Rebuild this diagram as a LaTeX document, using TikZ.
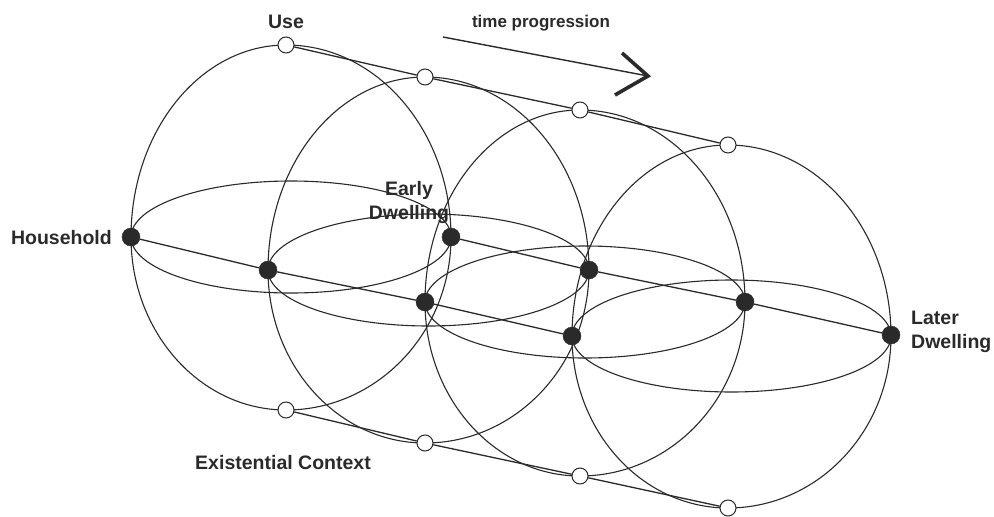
\documentclass[tikz,border=0pt]{standalone}
\usepackage{fontspec}
\setmainfont{Liberation Sans}
\definecolor{ink}{HTML}{2A2A2A}
\newcommand\drawsphere[6]{% #1 Lx, #2 Ly, #3 Tx, #4 Ty, #5 Rx, #6 By
  \pgfmathsetmacro\rl{#3-#1}%
  \pgfmathsetmacro\rr{#5-#3}%
  \pgfmathsetmacro\ru{#2-#4}%
  \pgfmathsetmacro\rd{#6-#2}%
  \pgfmathsetmacro\ecx{(#1+#5)/2}%
  \pgfmathsetmacro\erx{(#5-#1)/2}%
  \draw[sph] (#1,-#2)
    arc[start angle=180,end angle=90,x radius=\rl,y radius=\ru]
    arc[start angle=90,end angle=0,x radius=\rr,y radius=\ru]
    arc[start angle=0,end angle=-90,x radius=\rr,y radius=\rd]
    arc[start angle=-90,end angle=-180,x radius=\rl,y radius=\rd];
  \draw[sph] (\ecx,-#2) ellipse[x radius=\erx,y radius=56];
}
\begin{document}
\begin{tikzpicture}[x=1pt,y=1pt,
  sph/.style={draw=ink,line width=1.1pt},
  conn/.style={draw=ink,line width=1.3pt},
  arrowline/.style={draw=ink,line width=1.4pt},
  arrowhead/.style={draw=ink,line width=3.6pt},
  bdot/.style={circle,fill=ink,draw=ink,inner sep=0pt,minimum size=18pt},
  odot/.style={circle,fill=white,draw=ink,line width=1pt,inner sep=0pt,minimum size=16pt},
  lbl/.style={font=\bfseries\fontsize{19.5}{24}\selectfont,text=ink,inner sep=0pt},
  smalllbl/.style={font=\bfseries\fontsize{17}{20}\selectfont,text=ink,inner sep=0pt},
]
\useasboundingbox[fill=white] (0,0) rectangle (994,-517);

% spheres
\drawsphere{131}{237}{286}{45}{451}{410}
\drawsphere{268}{270}{425}{77}{589}{443}
\drawsphere{425}{302}{580}{110}{745}{476}
\drawsphere{572}{336}{728}{145}{891}{508}

% dots
\node[bdot] (h1) at (131,-237) {};
\node[bdot] (h2) at (268,-270) {};
\node[bdot] (h3) at (425,-302) {};
\node[bdot] (h4) at (572,-336) {};
\node[bdot] (e1) at (451,-237) {};
\node[bdot] (e2) at (589,-270) {};
\node[bdot] (e3) at (745,-302) {};
\node[bdot] (e4) at (891,-335) {};
\node[odot] (u1) at (286,-45) {};
\node[odot] (u2) at (425,-77) {};
\node[odot] (u3) at (580,-110) {};
\node[odot] (u4) at (728,-145) {};
\node[odot] (x1) at (286,-410) {};
\node[odot] (x2) at (425,-443) {};
\node[odot] (x3) at (580,-476) {};
\node[odot] (x4) at (728,-508) {};

% connectors
\draw[conn] (h1) -- (h2) -- (h3) -- (h4);
\draw[conn] (e1) -- (e2) -- (e3) -- (e4);
\draw[conn] (u1) -- (u2) -- (u3) -- (u4);
\draw[conn] (x1) -- (x2) -- (x3) -- (x4);

% time arrow
\coordinate (ta) at (443,-37);
\coordinate (tb) at (648,-76);
\coordinate (tu) at (622,-53);
\coordinate (tl) at (615,-95);
\draw[arrowline] (ta) -- (tb);
\draw[arrowhead,line join=miter] (tu) -- (tb) -- (tl);

% labels
\node[lbl] (use) at (286,-22) {Use};
\node[smalllbl] (time) at (541,-23) {time progression};
\node[lbl,anchor=east] (house) at (112,-238) {Household};
\node[lbl,align=center] (early) at (409,-202) {Early\\Dwelling};
\node[lbl,align=left,anchor=west] (later) at (911,-332) {Later\\Dwelling};
\node[lbl] (exist) at (283,-463) {Existential Context};
\end{tikzpicture}
\end{document}
